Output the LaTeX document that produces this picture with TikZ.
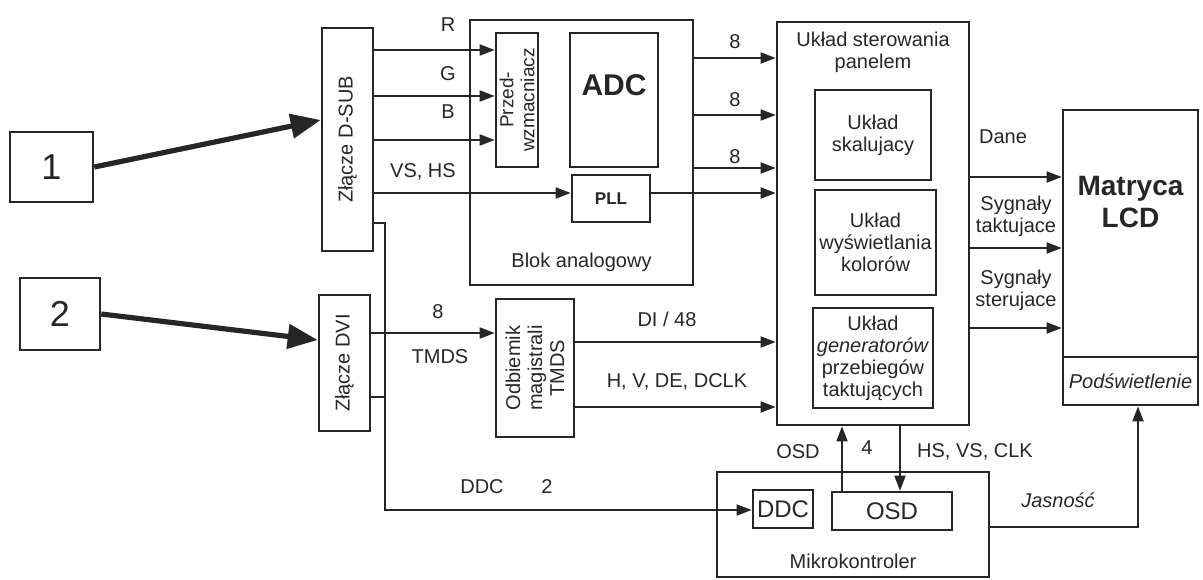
\documentclass[tikz,border=0pt]{standalone}
\usepackage{fontspec}
\setmainfont{Liberation Sans}
\usetikzlibrary{arrows.meta,positioning,calc}
\definecolor{Ink}{HTML}{262626}
\tikzset{
  blk/.style={draw=Ink,line width=1.3pt,inner sep=0pt,align=center,text=Ink},
  txt/.style={text=Ink,inner sep=1pt,align=center},
  conn/.style={draw=Ink,line width=.9pt},
  flow/.style={conn,-{Triangle[length=7.5pt,width=5.5pt]}},
  heavy/.style={draw=Ink,line width=2.6pt,-{Triangle[length=15pt,width=12pt]}},
  busline/.style={draw=Ink,line width=.7pt},
  bus/.style={busline,-{Triangle[length=7.5pt,width=5.5pt]}}
}

\begin{document}
\begin{tikzpicture}[x=.5pt,y=-.5pt,font=\fontsize{10}{11}\selectfont]
  \useasboundingbox (0,0) rectangle (1203,579);
  % sources and connectors
  \node[blk,minimum width=41.5pt,minimum height=35pt,font=\fontsize{18}{20}\selectfont] (one) at (51.5,167) {1};
  \node[blk,minimum width=40pt,minimum height=36pt,font=\fontsize{18}{20}\selectfont] (two) at (60,314) {2};
  \node[blk,minimum width=25.5pt,minimum height=111.5pt] (dsub) at (347.5,139.5) {};
  \node[txt,rotate=90] (dsubtxt) at (dsub) {Złącze D-SUB};
  \node[blk,minimum width=25.5pt,minimum height=68pt] (dvi) at (344.5,363) {};
  \node[txt,rotate=90] (dvitxt) at (dvi) {Złącze DVI};
  % analog block
  \node[blk,minimum width=111.5pt,minimum height=132.5pt] (analog) at (581.5,152.5) {};
  \node[txt,above=6pt of analog.south] (analogname) {Blok analogowy};
  \node[blk,minimum width=21pt,minimum height=67pt] (pre) at (517,100) {};
  \node[txt,rotate=90,font=\fontsize{9.5}{10.5}\selectfont] (pretxt) at (pre) {Przed-\\wzmacniacz};
  \node[blk,minimum width=44pt,minimum height=67pt] (adc) at (614,100) {};
  \node[txt,font=\bfseries\fontsize{15}{17}\selectfont] (adctxt) at ([yshift=7.5pt]adc.center) {ADC};
  \node[blk,minimum width=39pt,minimum height=23.5pt,font=\bfseries\fontsize{8.5}{10}\selectfont] (pll) at (611,198.5) {PLL};
  % TMDS receiver
  \node[blk,minimum width=39pt,minimum height=69pt] (tmds) at (535,368) {};
  \node[txt,rotate=90] (tmdstxt) at (tmds) {Odbiemik\\magistrali\\TMDS};
  % panel controller
  \node[blk,minimum width=96pt,minimum height=201.5pt] (panel) at (873,223.5) {};
  \node[txt,below=4.5pt of panel.north] (panelname) {Układ sterowania\\panelem};
  \node[blk,minimum width=58pt,minimum height=45pt] (skal) at (873,135) {Układ\\skalujacy};
  \node[blk,minimum width=60.5pt,minimum height=52.5pt] (kolor) at (875.5,242.5) {Układ\\wyświetlania\\kolorów};
  \node[blk,minimum width=60pt,minimum height=50pt] (gen) at (873,358) {Układ\\\textit{generatorów}\\przebiegów\\taktujących};
  % LCD
  \node[blk,minimum width=67.5pt,minimum height=123.5pt] (lcd) at (1130.5,233.5) {};
  \node[txt,font=\bfseries\fontsize{14}{16}\selectfont] (lcdtxt) at ([yshift=15.75pt]lcd.center) {Matryca\\LCD};
  \node[blk,minimum width=67.5pt,minimum height=24pt] (back) at (1130.5,381) {\textit{Podświetlenie}};
  % microcontroller
  \node[blk,minimum width=136pt,minimum height=52.5pt] (mikro) at (853,524.5) {};
  \node[txt,above=3.5pt of mikro.south] (mikroname) {Mikrokontroler};
  \node[blk,minimum width=30pt,minimum height=19pt,font=\fontsize{12}{14}\selectfont] (ddc) at (783,509) {DDC};
  \node[blk,minimum width=60pt,minimum height=19pt,font=\fontsize{12}{14}\selectfont] (osd) at (892,511) {OSD};

  % inputs
  \draw[heavy] (one.east) -- (dsub.west |- 0,120);
  \draw[heavy] (two.east) -- (dvi.west |- 0,340);
  % analog path
  \foreach \y in {50,96,140} \draw[flow] (dsub.east |- 0,\y) -- (pre.west |- 0,\y);
  \foreach \lab/\y in {R/25,G/74,B/112} \node[txt] (lbl\lab) at (448,\y) {\lab};
  \draw[flow] (dsub.east |- 0,193) -- (pll.west |- 0,193);
  \node[txt] (synclbl) at (423,172) {VS, HS};
  \draw[flow] (pll.east |- 0,193) -- (panel.west |- 0,193);
  \foreach \y in {58,115,168} \draw[flow] (analog.east |- 0,\y) -- (panel.west |- 0,\y);
  \foreach \y/\n in {42/a,100/b,157/c} \node[txt] (bits\n) at (735,\y) {8};
  % DDC bus
  \coordinate (ddcbend) at (385,510);
  \draw[bus] (dsub.east |- 0,223) -| (ddcbend) -- (ddc.west |- ddcbend);
  \draw[busline] (dvi.east |- 0,397) -- (ddcbend |- 0,397);
  \node[txt] (ddclbl) at (482,487) {DDC};
  \node[txt] (ddcwidth) at (547,487) {2};
  % digital path
  \draw[flow] (dvi.east |- 0,333) -- (tmds.west |- 0,333);
  \node[txt] (tmdsbits) at (438,312) {8};
  \node[txt] (tmdslbl) at (440,357) {TMDS};
  \draw[flow] (tmds.east |- 0,342) -- (panel.west |- 0,342);
  \draw[flow] (tmds.east |- 0,407) -- (panel.west |- 0,407);
  \node[txt] (dilbl) at (667,319) {DI / 48};
  \node[txt] (synclbl2) at (677,382) {H, V, DE, DCLK};
  % panel to LCD
  \foreach \y in {177,248,328} \draw[flow] (panel.east |- 0,\y) -- (lcd.west |- 0,\y);
  \node[txt] (danelbl) at (1003,137) {Dane};
  \node[txt] (taktlbl) at (1016,216) {Sygnały\\taktujace};
  \node[txt] (sterlbl) at (1016,290) {Sygnały\\sterujace};
  % microcontroller links
  \draw[flow] (osd.north -| 842,0) -- (panel.south -| 842,0);
  \draw[flow] (panel.south -| 900,0) -- (osd.north -| 900,0);
  \node[txt] (osdlbl) at (798,452) {OSD};
  \node[txt] (osdbits) at (867,448) {4};
  \node[txt] (clklbl) at (975,452) {HS, VS, CLK};
  \draw[flow] (mikro.east |- 0,527) -| (back.south -| 1138,0);
  \node[txt] (jaslbl) at (1058,500) {\textit{Jasność}};
\end{tikzpicture}
\end{document}
